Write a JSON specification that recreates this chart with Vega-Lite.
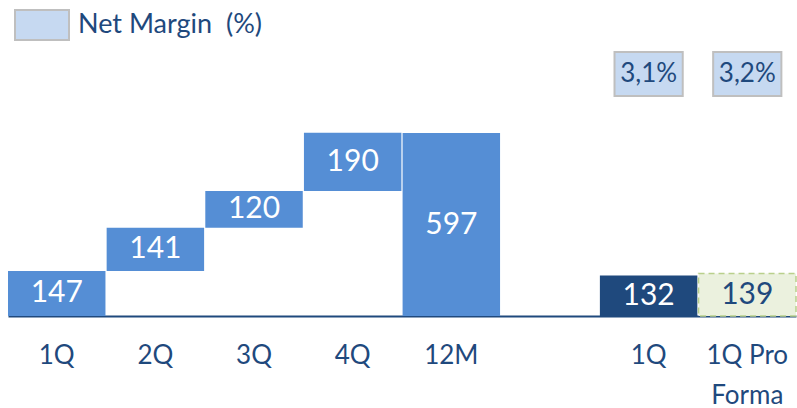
{
  "$schema": "https://vega.github.io/schema/vega-lite/v6.json",
  "width": 797,
  "height": 408,
  "autosize": "none",
  "padding": 0,
  "background": "white",
  "config": {"view": {"stroke": null}, "font": "Lato"},
  "datasets": {
    "bars": [
      {"cat": "1Q", "value": 147, "start": 0, "end": 147, "type": "Quarter"},
      {"cat": "2Q", "value": 141, "start": 147, "end": 288, "type": "Quarter"},
      {"cat": "3Q", "value": 120, "start": 288, "end": 408, "type": "Quarter"},
      {"cat": "4Q", "value": 190, "start": 408, "end": 598, "type": "Quarter"},
      {"cat": "12M", "value": 597, "start": 0, "end": 597, "type": "Quarter"},
      {"cat": "1Q new", "value": 132, "start": 0, "end": 132, "type": "Current"},
      {"cat": "1Q Pro Forma", "value": 139, "start": 0, "end": 139, "type": "ProForma"}
    ],
    "margins": [
      {"cat": "1Q new", "margin": "3,1%", "series": "Net Margin\u00a0\u00a0(%)"},
      {"cat": "1Q Pro Forma", "margin": "3,2%", "series": "Net Margin\u00a0\u00a0(%)"}
    ]
  },
  "layer": [
    {
      "data": {"name": "bars"},
      "mark": {"type": "bar"},
      "encoding": {
        "x": {
          "field": "cat", "type": "nominal", "sort": null,
          "scale": {"domain": ["1Q", "2Q", "3Q", "4Q", "12M", "gap", "1Q new", "1Q Pro Forma"], "range": [8, 796], "paddingInner": 0.012, "paddingOuter": 0},
          "axis": {
            "orient": "bottom", "offset": -92, "title": null,
            "domainColor": "#1F497D", "domainWidth": 2, "ticks": false, "grid": false,
            "labelFontSize": 26, "labelColor": "#1F497D", "labelPadding": 26, "labelAngle": 0,
            "labelLineHeight": 40, "labelFont": "Lato",
            "labelExpr": "datum.value == 'gap' ? '' : datum.value == '1Q new' ? '1Q' : datum.value == '1Q Pro Forma' ? ['1Q Pro', 'Forma'] : datum.value"
          }
        },
        "y": {"field": "start", "type": "quantitative", "scale": {"domain": [0, 597], "range": [316, 133], "nice": false, "zero": false}, "axis": null},
        "y2": {"field": "end"},
        "fill": {"field": "type", "type": "nominal", "scale": {"domain": ["Quarter", "Current", "ProForma"], "range": ["#558ED5", "#1F497D", "#EBF1DE"]}, "legend": null}
      }
    },
    {
      "data": {"name": "bars"},
      "transform": [{"filter": "datum.type == 'ProForma'"}],
      "mark": {"type": "bar", "fill": null, "stroke": "#B9D08C", "strokeWidth": 1.5, "strokeDash": [6, 4]},
      "encoding": {
        "x": {"field": "cat", "type": "nominal", "sort": null},
        "y": {"field": "start", "type": "quantitative"},
        "y2": {"field": "end"}
      }
    },
    {
      "data": {"name": "bars"},
      "transform": [{"calculate": "(datum.start + datum.end) / 2", "as": "mid"}],
      "mark": {"type": "text", "fontSize": 30, "baseline": "middle", "align": "center", "font": "Lato"},
      "encoding": {
        "x": {"field": "cat", "type": "nominal", "sort": null},
        "y": {"field": "mid", "type": "quantitative"},
        "text": {"field": "value", "type": "quantitative"},
        "color": {"field": "type", "type": "nominal", "scale": {"domain": ["Quarter", "Current", "ProForma"], "range": ["#FFFFFF", "#FFFFFF", "#1F497D"]}, "legend": null}
      }
    },
    {
      "data": {"name": "margins"},
      "mark": {"type": "bar", "width": {"band": 0.7}, "stroke": "#BFBFBF", "strokeWidth": 2},
      "encoding": {
        "x": {"field": "cat", "type": "nominal", "sort": null},
        "y": {"datum": 718},
        "y2": {"datum": 861},
        "color": {
          "field": "series", "type": "nominal",
          "scale": {"range": ["#C6D9F1"]},
          "legend": {
            "orient": "none", "legendX": 14, "legendY": -3, "title": null,
            "symbolType": "M-1,-0.556L1,-0.556L1,0.556L-1,0.556Z",
            "symbolSize": 2916, "symbolStrokeColor": "#BFBFBF", "symbolStrokeWidth": 2, "symbolFillColor": "#C6D9F1",
            "labelFontSize": 27, "labelColor": "#1F497D", "labelFont": "Lato", "labelOffset": 8, "labelLimit": 400
          }
        }
      }
    },
    {
      "data": {"name": "margins"},
      "mark": {"type": "text", "fontSize": 26, "color": "#1F497D", "baseline": "middle", "font": "Lato"},
      "encoding": {
        "x": {"field": "cat", "type": "nominal", "sort": null},
        "y": {"datum": 789},
        "text": {"field": "margin"}
      }
    }
  ],
  "resolve": {"scale": {"color": "independent"}}
}
